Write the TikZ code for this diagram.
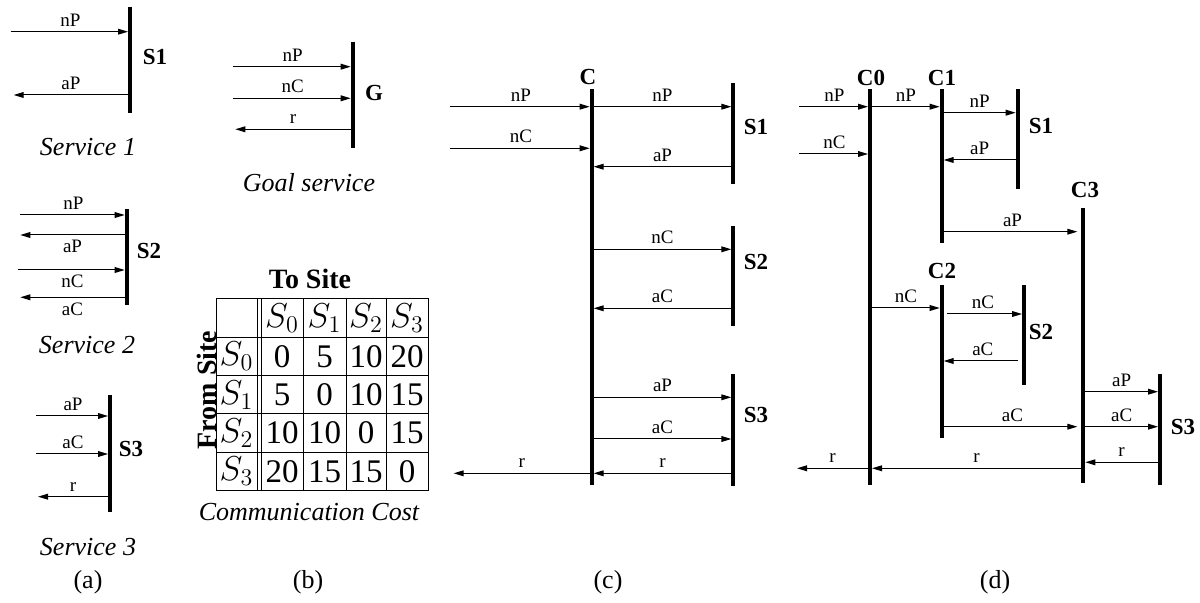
\documentclass[tikz,border=0pt]{standalone}
\usepackage{fontspec}
\setmainfont{Liberation Serif}
\usetikzlibrary{arrows.meta}
\tikzset{
  lifeline/.style={line width=2pt},
  msg/.style={line width=0.5pt,-{Triangle[length=5pt,width=2.9pt]},shorten >=1pt},
  lbl/.style={font=\fontsize{9.5}{11}\selectfont,inner sep=2.4pt},
  barname/.style={font=\fontsize{11.5}{13}\selectfont\bfseries,inner sep=0pt},
  servicename/.style={font=\fontsize{13}{15}\selectfont\itshape,inner sep=0pt},
  subcaption/.style={font=\fontsize{13}{15}\selectfont,inner sep=0pt},
  tablehead/.style={font=\fontsize{14}{16}\selectfont\bfseries,inner sep=0pt},
  cellnum/.style={font=\fontsize{16.5}{19}\selectfont,inner sep=0pt},
  gridline/.style={line width=0.5pt}
}
\begin{document}
\begin{tikzpicture}[x=0.5pt,y=-0.5pt]
  \useasboundingbox (0,0) rectangle (1200,603);
  % (a) the three services
  \coordinate (aS1) at (130,6.7);
  \coordinate (aS2) at (126.7,209.3);
  \coordinate (aS3) at (110,395);
  \draw[lifeline] (aS1) -- ++(0,106.6);
  \draw[lifeline] (aS2) -- ++(0,95.7);
  \draw[lifeline] (aS3) -- ++(0,116.7);
  \node[barname] (aS1name) at (155,57) {S1};
  \node[barname] (aS2name) at (149,251) {S2};
  \node[barname] (aS3name) at (131,449) {S3};
  \draw[msg] (10.7,31.7) -- node[lbl,above] {nP} (aS1 |- 0,31.7);
  \draw[msg] (aS1 |- 0,95) -- node[lbl,above] {aP} (11.7,95);
  \draw[msg] (20,215) -- node[lbl,above] {nP} (aS2 |- 0,215);
  \draw[msg] (aS2 |- 0,235) -- node[lbl,below] {aP} (18.3,235);
  \draw[msg] (18.3,270) -- node[lbl,below] {nC} (aS2 |- 0,270);
  \draw[msg] (aS2 |- 0,297.3) -- node[lbl,below] {aC} (18.3,297.3);
  \draw[msg] (36,416) -- node[lbl,above] {aP} (aS3 |- 0,416);
  \draw[msg] (36,454) -- node[lbl,above] {aC} (aS3 |- 0,454);
  \draw[msg] (aS3 |- 0,496.7) -- node[lbl,above] {r} (36,496.7);
  \node[servicename] (srv1) at (88,147) {Service 1};
  \node[servicename] (srv2) at (87,345) {Service 2};
  \node[servicename] (srv3) at (88,547) {Service 3};
  % (b) goal service and cost table
  \coordinate (bG) at (352.7,41.7);
  \draw[lifeline] (bG) -- ++(0,106.6);
  \node[barname] (bGname) at (374,93) {G};
  \draw[msg] (232.7,66.7) -- node[lbl,above] {nP} (bG |- 0,66.7);
  \draw[msg] (232.7,98.3) -- node[lbl,above] {nC} (bG |- 0,98.3);
  \draw[msg] (bG |- 0,129.3) -- node[lbl,above] {r} (233.3,129.3);
  \node[servicename] (goal) at (309,183) {Goal service};
  \node[tablehead] (tosite) at (310,279) {To Site};
  \node[tablehead,rotate=90] (fromsite) at (207,390) {From Site};
  \draw[gridline] (216,299) rectangle (428,490.6);
  \foreach \y in {337.3,375.6,414,452.3}
    \draw[gridline] (216,\y) -- (428,\y);
  \foreach \x in {257,261,303,346,386}
    \draw[gridline] (\x,299) -- (\x,490.6);
  \foreach \c/\x in {0/282,1/324.5,2/366,3/407}
    \node[cellnum] (to\c) at (\x,318) {$S_{\c}$};
  \foreach \r/\y/\a/\b/\c/\d in {0/356.5/0/5/10/20,1/395/5/0/10/15,2/433/10/10/0/15,3/471.5/20/15/15/0} {
    \node[cellnum] (from\r) at (236.5,\y) {$S_{\r}$};
    \node[cellnum] (cost\r a) at (282,\y) {\a};
    \node[cellnum] (cost\r b) at (324.5,\y) {\b};
    \node[cellnum] (cost\r c) at (366,\y) {\c};
    \node[cellnum] (cost\r d) at (407,\y) {\d};
  }
  \node[servicename] (commcost) at (309,512) {Communication Cost};
  % (c) one coordinator
  \coordinate (cC) at (591.7,89.3);
  \coordinate (cS1) at (733.3,83.3);
  \coordinate (cS2) at (733.3,225.7);
  \coordinate (cS3) at (733.3,374);
  \draw[lifeline] (cC) -- ++(0,395.7);
  \draw[lifeline] (cS1) -- ++(0,100.7);
  \draw[lifeline] (cS2) -- ++(0,100);
  \draw[lifeline] (cS3) -- ++(0,111.7);
  \node[barname] (cCname) at (588,77) {C};
  \node[barname] (cS1name) at (756,127) {S1};
  \node[barname] (cS2name) at (756,262) {S2};
  \node[barname] (cS3name) at (756,415) {S3};
  \draw[msg] (450,106.7) -- node[lbl,above] {nP} (cC |- 0,106.7);
  \draw[msg] (cC |- 0,106.7) -- node[lbl,above] {nP} (cS1 |- 0,106.7);
  \draw[msg] (450,148.3) -- node[lbl,above] {nC} (cC |- 0,148.3);
  \draw[msg] (cS1 |- 0,166.7) -- node[lbl,above] {aP} (cC |- 0,166.7);
  \draw[msg] (cC |- 0,249.3) -- node[lbl,above] {nC} (cS2 |- 0,249.3);
  \draw[msg] (cS2 |- 0,308.3) -- node[lbl,above] {aC} (cC |- 0,308.3);
  \draw[msg] (cC |- 0,397.3) -- node[lbl,above] {aP} (cS3 |- 0,397.3);
  \draw[msg] (cC |- 0,439) -- node[lbl,above] {aC} (cS3 |- 0,439);
  \draw[msg] (cS3 |- 0,473.3) -- node[lbl,above] {r} (cC |- 0,473.3);
  \draw[msg] (cC |- 0,473.3) -- node[lbl,above] {r} (451.7,473.3);
  % (d) distributed coordinators
  \coordinate (dC0) at (870,89.3);
  \coordinate (dC1) at (941.7,89.3);
  \coordinate (dS1) at (1017.7,89.3);
  \coordinate (dC2) at (941.7,285);
  \coordinate (dS2) at (1024,285);
  \coordinate (dC3) at (1083.3,208.3);
  \coordinate (dS3) at (1160,374);
  \draw[lifeline] (dC0) -- ++(0,395.7);
  \draw[lifeline] (dC1) -- ++(0,153.4);
  \draw[lifeline] (dS1) -- ++(0,100);
  \draw[lifeline] (dC2) -- ++(0,153.3);
  \draw[lifeline] (dS2) -- ++(0,100);
  \draw[lifeline] (dC3) -- ++(0,275);
  \draw[lifeline] (dS3) -- ++(0,111);
  \node[barname] (dC0name) at (871,78) {C0};
  \node[barname] (dC1name) at (942,78) {C1};
  \node[barname] (dS1name) at (1041,126) {S1};
  \node[barname] (dC2name) at (942,271) {C2};
  \node[barname] (dS2name) at (1041,332) {S2};
  \node[barname] (dC3name) at (1085,190) {C3};
  \node[barname] (dS3name) at (1183,427) {S3};
  \draw[msg] (799,106.7) -- node[lbl,above] {nP} (dC0 |- 0,106.7);
  \draw[msg] (dC0 |- 0,106.7) -- node[lbl,above] {nP} (dC1 |- 0,106.7);
  \draw[msg] (dC1 |- 0,112.7) -- node[lbl,above] {nP} (dS1 |- 0,112.7);
  \draw[msg] (799,154) -- node[lbl,above] {nC} (dC0 |- 0,154);
  \draw[msg] (dS1 |- 0,160) -- node[lbl,above] {aP} (dC1 |- 0,160);
  \draw[msg,shorten >=3pt] (dC1 |- 0,231.7) -- node[lbl,above] {aP} (dC3 |- 0,231.7);
  \draw[msg] (dC0 |- 0,308) -- node[lbl,above] {nC} (dC2 |- 0,308);
  \draw[msg,shorten <=2.5pt] (dC2 |- 0,314) -- node[lbl,above] {nC} (dS2 |- 0,314);
  \draw[msg,shorten <=3pt] (dS2 |- 0,361) -- node[lbl,above] {aC} (dC2 |- 0,361);
  \draw[msg,shorten >=3pt] (dC2 |- 0,426.7) -- node[lbl,above] {aC} (dC3 |- 0,426.7);
  \draw[msg] (dC3 |- 0,391.7) -- node[lbl,above] {aP} (dS3 |- 0,391.7);
  \draw[msg] (dC3 |- 0,426.7) -- node[lbl,above] {aC} (dS3 |- 0,426.7);
  \draw[msg] (dS3 |- 0,462.3) -- node[lbl,above] {r} (dC3 |- 0,462.3);
  \draw[msg] (dC3 |- 0,468.3) -- node[lbl,above] {r} (dC0 |- 0,468.3);
  \draw[msg] (dC0 |- 0,468.3) -- node[lbl,above] {r} (795,468.3);
  % sub-figure captions
  \node[subcaption] (capa) at (88,582) {(a)};
  \node[subcaption] (capb) at (308,582) {(b)};
  \node[subcaption] (capc) at (608,582) {(c)};
  \node[subcaption] (capd) at (995,582) {(d)};
\end{tikzpicture}
\end{document}
